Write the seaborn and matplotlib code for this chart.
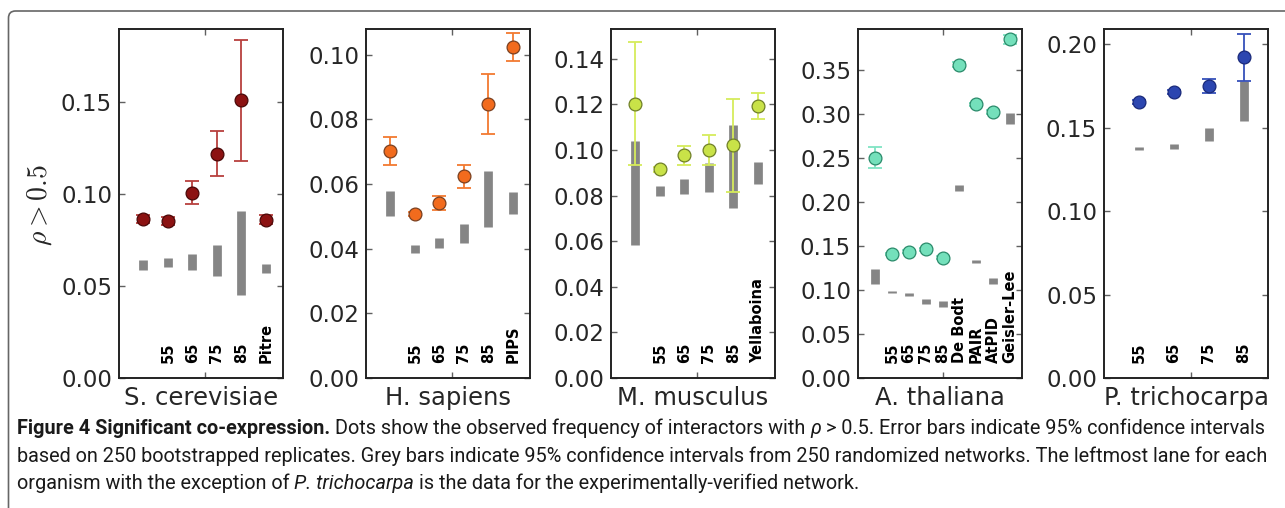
import numpy as np
import pandas as pd
import matplotlib
matplotlib.use("Agg")
import matplotlib.pyplot as plt
import matplotlib.transforms as mtransforms
from matplotlib import font_manager
from matplotlib.patches import FancyBboxPatch
import seaborn as sns

# ---------------- data ----------------
species = ["S. cerevisiae", "H. sapiens", "M. musculus", "A. thaliana", "P. trichocarpa"]

sc_labels = ["", "55", "65", "75", "85", "Pitre"]
sc_obs = [0.0865, 0.0854, 0.1009, 0.1221, 0.1513, 0.0860]
sc_obs_lo = [0.0842, 0.0832, 0.0946, 0.1100, 0.1181, 0.0838]
sc_obs_hi = [0.0888, 0.0876, 0.1070, 0.1347, 0.1842, 0.0885]
sc_rand_lo = [0.0590, 0.0604, 0.0590, 0.0553, 0.0453, 0.0571]
sc_rand_hi = [0.0644, 0.0655, 0.0677, 0.0723, 0.0909, 0.0619]

hs_labels = ["", "55", "65", "75", "85", "PIPS"]
hs_obs = [0.0702, 0.0507, 0.0542, 0.0626, 0.0849, 0.1023]
hs_obs_lo = [0.0660, 0.0500, 0.0521, 0.0588, 0.0754, 0.0980]
hs_obs_hi = [0.0745, 0.0514, 0.0562, 0.0660, 0.0942, 0.1067]
hs_rand_lo = [0.0502, 0.0388, 0.0402, 0.0417, 0.0466, 0.0508]
hs_rand_hi = [0.0578, 0.0412, 0.0433, 0.0477, 0.0640, 0.0575]

mm_labels = ["", "55", "65", "75", "85", "Yellaboina"]
mm_obs = [0.1203, 0.0916, 0.0976, 0.0998, 0.1020, 0.1194]
mm_obs_lo = [0.0935, 0.0905, 0.0935, 0.0935, 0.0814, 0.1136]
mm_obs_hi = [0.1473, 0.0927, 0.1015, 0.1067, 0.1224, 0.1250]
mm_rand_lo = [0.0583, 0.0799, 0.0807, 0.0815, 0.0746, 0.0851]
mm_rand_hi = [0.1040, 0.0843, 0.0873, 0.0942, 0.1108, 0.0945]

at_labels = ["", "55", "65", "75", "85", "De Bodt", "PAIR", "AtPID", "Geisler-Lee"]
at_obs = [0.2493, 0.1406, 0.1432, 0.1459, 0.1364, 0.3553, 0.3107, 0.3023, 0.3849]
at_obs_lo = [0.2380, 0.1390, 0.1415, 0.1440, 0.1350, 0.3530, 0.3090, 0.3000, 0.3790]
at_obs_hi = [0.2625, 0.1420, 0.1450, 0.1475, 0.1380, 0.3580, 0.3125, 0.3045, 0.3890]
at_rand_lo = [0.1061, 0.0959, 0.0928, 0.0845, 0.0800, 0.2125, 0.1300, 0.1065, 0.2883]
at_rand_hi = [0.1232, 0.0989, 0.0959, 0.0891, 0.0871, 0.2190, 0.1337, 0.1130, 0.3004]

pt_labels = ["55", "65", "75", "85"]
pt_obs = [0.1653, 0.1713, 0.1751, 0.1921]
pt_obs_lo = [0.1640, 0.1700, 0.1707, 0.1781]
pt_obs_hi = [0.1666, 0.1726, 0.1793, 0.2063]
pt_rand_lo = [0.1363, 0.1371, 0.1420, 0.1541]
pt_rand_hi = [0.1383, 0.1403, 0.1500, 0.1781]

y_max = [0.190, 0.108, 0.153, 0.396, 0.209]
y_ticks = [
    [0.00, 0.05, 0.10, 0.15],
    [0.00, 0.02, 0.04, 0.06, 0.08, 0.10],
    [0.00, 0.02, 0.04, 0.06, 0.08, 0.10, 0.12, 0.14],
    [0.00, 0.05, 0.10, 0.15, 0.20, 0.25, 0.30, 0.35],
    [0.00, 0.05, 0.10, 0.15, 0.20],
]

# ---------------- style ----------------
sns.set_style("ticks")
plt.rcParams["font.family"] = ["DejaVu Sans"]
plt.rcParams["mathtext.fontset"] = "cm"

face_cols = ["#8c1212", "#f26b1d", "#c9e248", "#74e0bb", "#2c46b0"]
edge_cols = ["#4a0808", "#7a4020", "#6f7f28", "#2a8a6a", "#1a2a7a"]
err_cols = ["#b8403e", "#f27a30", "#d6ec5c", "#80e4c4", "#3650ba"]

panels = [
    (sc_labels, sc_obs, sc_obs_lo, sc_obs_hi, sc_rand_lo, sc_rand_hi),
    (hs_labels, hs_obs, hs_obs_lo, hs_obs_hi, hs_rand_lo, hs_rand_hi),
    (mm_labels, mm_obs, mm_obs_lo, mm_obs_hi, mm_rand_lo, mm_rand_hi),
    (at_labels, at_obs, at_obs_lo, at_obs_hi, at_rand_lo, at_rand_hi),
    (pt_labels, pt_obs, pt_obs_lo, pt_obs_hi, pt_rand_lo, pt_rand_hi),
]

W, H = 1285, 508
fig = plt.figure(figsize=(W / 100, H / 100), dpi=100)

# outer rounded frame (extends past right and bottom edges)
frame = FancyBboxPatch((0.085, -1.0), 14.0, (H - 11) / 100 + 1.0,
                       boxstyle="round,pad=0,rounding_size=0.07",
                       transform=fig.dpi_scale_trans, fill=False,
                       edgecolor="#666666", linewidth=1.2, clip_on=False)
fig.patches.append(frame)

ax_left_px = [119, 366, 611, 858, 1104]
ax_w_px = 164
ax_top_px, ax_bot_px = 29, 378

for k, (labs, obs, olo, ohi, rlo, rhi) in enumerate(panels):
    ax = fig.add_axes([ax_left_px[k] / W, 1 - ax_bot_px / H,
                       ax_w_px / W, (ax_bot_px - ax_top_px) / H])
    n = len(labs)
    x = np.arange(n)
    obs = np.array(obs)
    df = pd.DataFrame({"lane": x, "obs": obs})

    ax.vlines(x, rlo, rhi, colors="#858585", linewidth=6.3, zorder=2)
    ax.errorbar(x, obs, yerr=[obs - np.array(olo), np.array(ohi) - obs],
                fmt="none", ecolor=err_cols[k], elinewidth=1.3,
                capsize=5, capthick=1.3, zorder=3)
    sns.scatterplot(data=df, x="lane", y="obs", ax=ax, s=85,
                    color=face_cols[k], edgecolor=edge_cols[k],
                    linewidth=0.9, zorder=4, legend=False)

    ax.set_xlim(-1, n - 0.3)
    ax.set_ylim(0, y_max[k])
    ax.set_xticks([(n - 1) / 2])
    ax.set_xticklabels([])
    ax.set_yticks(y_ticks[k])
    ax.set_yticklabels([f"{v:.2f}" for v in y_ticks[k]], fontsize=16.5)
    ax.tick_params(axis="both", direction="in", length=4, width=1,
                   color="#606060", top=True, right=True, pad=5)
    ax.set_xlabel(species[k], fontsize=17.5, labelpad=1)
    ax.set_ylabel("")
    for sp in ax.spines.values():
        sp.set_visible(True)
        sp.set_color("#222222")
        sp.set_linewidth(1.4)

    trans = mtransforms.blended_transform_factory(ax.transData, ax.transAxes)
    for i, lab in enumerate(labs):
        if lab:
            ax.text(i, 0.042, lab, transform=trans, rotation=90, ha="center",
                    va="bottom", fontsize=10.5, fontweight="bold", color="black")

fig.text(40 / W, 1 - 205 / H, r"$\rho > 0.5$", rotation=90, ha="center",
         va="center", fontsize=20)

# ---------------- caption ----------------
avail = {f.name for f in font_manager.fontManager.ttflist}
cap_font = "DejaVu Sans"
for cand in ["Liberation Sans Narrow", "Roboto", "Open Sans"]:
    if cand in avail:
        cap_font = cand
        break

caption_lines = [
    [("Figure 4 Significant co-expression.", "bold", "normal"),
     ("Dots show the observed frequency of interactors with", "normal", "normal"),
     ("\u03c1", "normal", "italic"),
     ("> 0.5. Error bars indicate 95% confidence intervals", "normal", "normal")],
    [("based on 250 bootstrapped replicates. Grey bars indicate 95% confidence intervals from 250 randomized networks. The leftmost lane for each", "normal", "normal")],
    [("organism with the exception of", "normal", "normal"),
     ("P. trichocarpa", "normal", "italic"),
     ("is the data for the experimentally-verified network.", "normal", "normal")],
]
baselines = [434, 462, 489]
x0 = 17
target_w = 1245


def draw_line(segs, y_px, size, draw=True):
    renderer = fig.canvas.get_renderer()
    xp = x0
    arts = []
    sp_t = fig.text(0, 0, "a a", fontsize=size, family=cap_font)
    nsp_t = fig.text(0, 0, "aa", fontsize=size, family=cap_font)
    space = (sp_t.get_window_extent(renderer).width
             - nsp_t.get_window_extent(renderer).width)
    sp_t.remove()
    nsp_t.remove()
    for j, (s, w, st) in enumerate(segs):
        t = fig.text(xp / W, 1 - y_px / H, s, fontsize=size, family=cap_font,
                     fontweight=w, fontstyle=st, ha="left", va="baseline",
                     color="#1a1a1a")
        bb = t.get_window_extent(renderer)
        xp += bb.width + space
        arts.append(t)
    if not draw:
        for t in arts:
            t.remove()
    return xp - space - x0


size = 12.0
w1 = draw_line(caption_lines[0], baselines[0], size, draw=False)
size = size * target_w / w1
for segs, yb in zip(caption_lines, baselines):
    draw_line(segs, yb, size)

fig.savefig("out.png", dpi=100)
